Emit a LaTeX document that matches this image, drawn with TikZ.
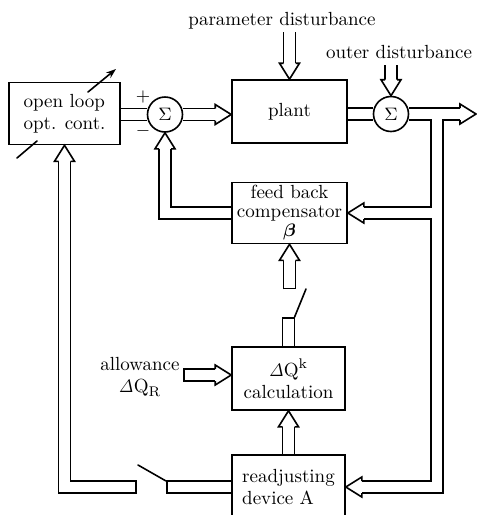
\documentclass[tikz,border=0pt]{standalone}
\usepackage{bm}
\usetikzlibrary{positioning,arrows.meta,calc,backgrounds}

\begin{document}
\begin{tikzpicture}[
  x=0.5pt,y=-0.5pt,
  every node/.style={font=\fontsize{9.5}{11}\selectfont,inner sep=1pt},
  blk/.style={draw,fill=white,line width=0.8pt,align=center},
  sum/.style={draw,fill=white,circle,line width=0.8pt,minimum size=17.5pt,inner sep=0pt},
  wire/.style={line width=0.8pt,line cap=round},
  knob/.style={wire,-{Stealth[length=5pt,width=3.5pt]}},
  hollowtip/.pic={
    \fill[white] (-16,-10) -- (0,0) -- (-16,10) -- cycle;
    \draw[line width=0.8pt] (-16,-6) -- (-16,-10) -- (0,0) -- (-16,10) -- (-16,6);
  },
]
\path[use as bounding box,clip] (0,0) rectangle (477,515);

% blocks
\node[blk,align=left,minimum width=55.5pt,minimum height=31pt] (olc) at (64.5,113.5) {open loop\\opt. cont.};
\node[blk,minimum width=57.5pt,minimum height=31.5pt] (plant) at (289.5,111.5) {plant};
\node[blk,minimum width=57.5pt,minimum height=30.5pt,font=\fontsize{9.5}{9.5}\selectfont] (fbc) at (289.5,213) {feed back\\compensator\\$\bm\beta$};
\node[blk,minimum width=56.5pt,minimum height=31.5pt] (calc) at (288.5,378.5) {$\mathit{\Delta}$Q$^{\mathrm{k}}$\\calculation};
\node[blk,align=left,minimum width=56.5pt,minimum height=32pt] (rda) at (288.5,487) {readjusting\\device A};
\node[sum] (s1) at (165,114.5) {$\Sigma$};
\node[sum] (s2) at (391,114) {$\Sigma$};

% labels
\node (pdist) at (282,21) {parameter disturbance};
\node (odist) at (399,52) {outer disturbance};
\node (plus) at (143,97) {$+$};
\node (minus) at (143,131) {$-$};
\node[align=center] (allow) at (140,377) {allowance\\$\mathit{\Delta}$Q$_{\mathrm{R}}$};

% free ends of the pipes
\coordinate (pin) at (289.5,32);
\coordinate (oin) at (391,65);
\coordinate (out) at (476,114);
\coordinate (jn) at (437,114);
\coordinate (fbin) at ($(fbc.south)+(0,45)$);
\coordinate (swtop) at ($(calc.north)+(0,-29)$);
\coordinate (alw) at (183,375);
\coordinate (swr) at (166,487);
\coordinate (swl) at (137,487);

% double-line pipes: black pass, then white pass
\begin{scope}[on background layer]
\foreach \lw/\col/\cap in {6.8pt/black/0pt,5.2pt/white/0.8pt}{
  \draw[line width=\lw,draw=\col] (s1.west -| olc.east) -- (s1.west);
  \draw[line width=\lw,draw=\col,shorten >=6pt] (s1.east) -- (s1.east -| plant.west);
  \draw[line width=\lw,draw=\col] (s2.west -| plant.east) -- (s2.west);
  \draw[line width=\lw,draw=\col,shorten >=6pt] (s2.east) -- (out);
  \draw[line width=\lw,draw=\col,shorten >=6pt] (jn) |- (fbc.east);
  \draw[line width=\lw,draw=\col,shorten >=6pt] (jn) |- (rda.east);
  \draw[line width=\lw,draw=\col,shorten >=6pt] (fbc.west) -| (s1.south);
  \draw[line width=\lw,draw=\col,shorten >=6pt] (pin) -- (plant.north);
  \draw[line width=\lw,draw=\col,shorten >=6pt] (oin) -- (s2.north);
  \draw[line width=\lw,draw=\col,shorten <=\cap,shorten >=6pt] (fbin) -- (fbc.south);
  \draw[line width=\lw,draw=\col,shorten >=\cap] (calc.north) -- (swtop);
  \draw[line width=\lw,draw=\col,shorten <=\cap,shorten >=6pt] (alw) -- (alw -| calc.west);
  \draw[line width=\lw,draw=\col,shorten >=6pt] (rda.north) -- (calc.south);
  \draw[line width=\lw,draw=\col,shorten >=\cap] (rda.west) -- (swr);
  \draw[line width=\lw,draw=\col,shorten <=\cap,shorten >=6pt] (swl) -| (olc.south);
}
\end{scope}

% hollow heads
\pic at (s1.east -| plant.west) {hollowtip};
\pic at (out) {hollowtip};
\pic[rotate=180] at (fbc.east) {hollowtip};
\pic[rotate=180] at (rda.east) {hollowtip};
\pic[rotate=90] at (s1.south) {hollowtip};
\pic[rotate=-90] at (plant.north) {hollowtip};
\pic[rotate=-90] at (s2.north) {hollowtip};
\pic[rotate=90] at (fbc.south) {hollowtip};
\pic at (alw -| calc.west) {hollowtip};
\pic[rotate=90] at (calc.south) {hollowtip};
\pic[rotate=90] at (olc.south) {hollowtip};

% switches
\coordinate (bladeA) at (306,289);
\coordinate (bladeB) at (138,465);
\draw[wire] ($(swtop)+(6,0)$) -- (bladeA);
\draw[wire] ($(swr)+(0,-6)$) -- (bladeB);

% adjustment arrow on the open loop controller
\coordinate (knA) at (88,92);
\coordinate (knB) at (116,69);
\coordinate (knC) at (17,158);
\coordinate (knD) at (37,141);
\draw[knob] (knA) -- (knB);
\draw[wire] (knC) -- (knD);
\end{tikzpicture}
\end{document}
